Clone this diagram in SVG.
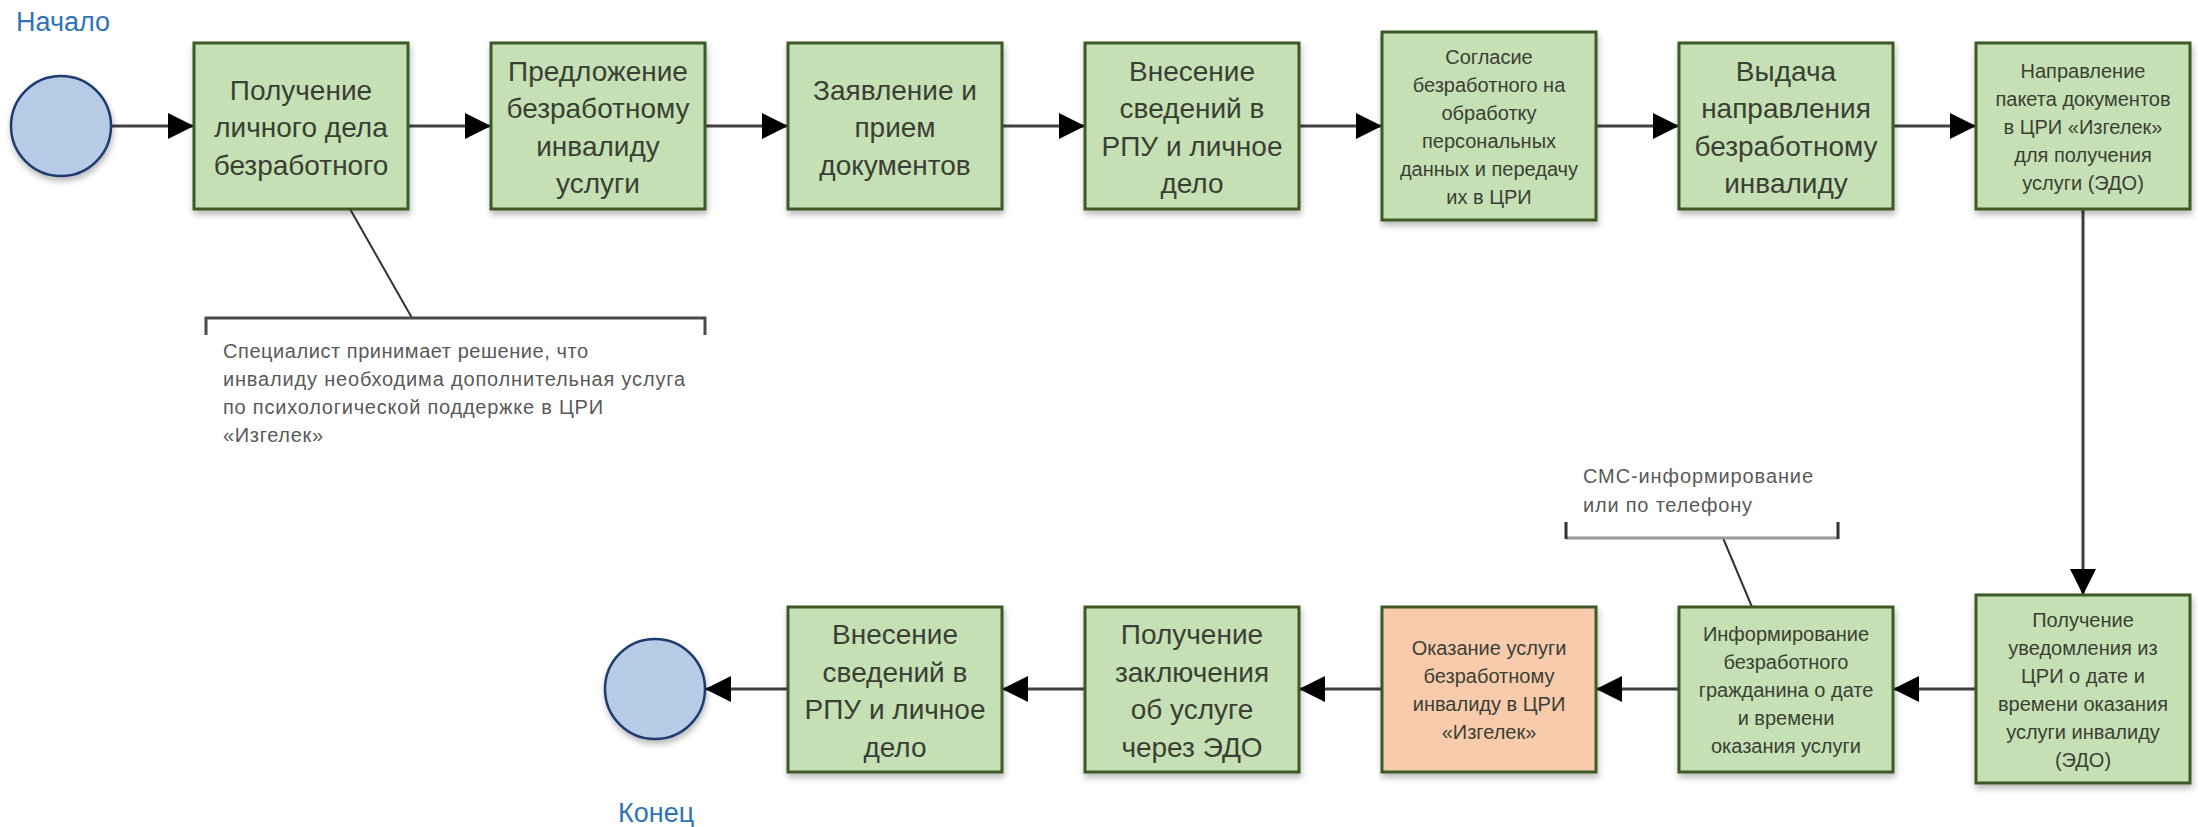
<svg xmlns="http://www.w3.org/2000/svg" width="2198" height="827" viewBox="0 0 2198 827">
  <defs>
    <filter id="shadow" x="-10%" y="-10%" width="125%" height="130%">
      <feDropShadow dx="1" dy="4" stdDeviation="3" flood-color="#000" flood-opacity="0.28"/>
    </filter>
    <marker id="arrow" viewBox="0 0 26 26" refX="26" refY="13" markerWidth="26" markerHeight="26" markerUnits="userSpaceOnUse" orient="auto">
      <path d="M0,0 L26,13 L0,26 Z" fill="#000"/>
    </marker>
  </defs>
  <style>
    .task { fill: #c5e0b4; stroke: #3d5a27; stroke-width: 3; filter: url(#shadow); }
    .task.alt { fill: #f8cbad; }
    .event { fill: #b7cbe6; stroke: #1f3a6e; stroke-width: 2.5; filter: url(#shadow); }
    .big { font-family: "Liberation Sans", Arial, sans-serif; font-size: 28px; fill: #3b3f33; text-anchor: middle; }
    .small { font-family: "Liberation Sans", Arial, sans-serif; font-size: 20px; fill: #3b3f33; text-anchor: middle; }
    .label { font-family: "Liberation Sans", Arial, sans-serif; font-size: 27px; fill: #2e74b5; }
    .note { font-family: "Liberation Sans", Arial, sans-serif; font-size: 20px; fill: #595959; }
    .flow { fill: none; stroke: #404040; stroke-width: 3; marker-end: url(#arrow); }
    .assoc { fill: none; stroke: #333; stroke-width: 2; }
    .tick { fill: none; stroke: #333; stroke-width: 3; }
  </style>
  <rect width="2198" height="827" fill="#fff"/>

  <!-- sequence flows -->
  <g id="connectors">
    <path class="flow" d="M111,126 H194"/>
    <path class="flow" d="M408,126 H491"/>
    <path class="flow" d="M705,126 H788"/>
    <path class="flow" d="M1002,126 H1085"/>
    <path class="flow" d="M1299,126 H1382"/>
    <path class="flow" d="M1596,126 H1679"/>
    <path class="flow" d="M1893,126 H1976"/>
    <path class="flow" d="M2083,209 V595"/>
    <path class="flow" d="M1976,689 H1893"/>
    <path class="flow" d="M1679,689 H1596"/>
    <path class="flow" d="M1382,689 H1299"/>
    <path class="flow" d="M1085,689 H1002"/>
    <path class="flow" d="M788,689 H705"/>
    <!-- annotation links -->
    <path class="assoc" d="M350,209 L412,318"/>
    <path class="assoc" d="M1723,538 L1752,607"/>
  </g>

  <!-- start event -->
  <g id="start">
    <text class="label" x="16" y="31">Начало</text>
    <circle class="event" cx="61" cy="126" r="50"/>
  </g>

  <g id="task1">
    <rect class="task" x="194" y="43" width="214" height="166"/>
    <text class="big"><tspan x="301" y="99.5">Получение</tspan><tspan x="301" y="137">личного дела</tspan><tspan x="301" y="174.5">безработного</tspan></text>
  </g>

  <g id="task2">
    <rect class="task" x="491" y="43" width="214" height="166"/>
    <text class="big"><tspan x="598" y="80.75">Предложение</tspan><tspan x="598" y="118.25">безработному</tspan><tspan x="598" y="155.75">инвалиду</tspan><tspan x="598" y="193.25">услуги</tspan></text>
  </g>

  <g id="task3">
    <rect class="task" x="788" y="43" width="214" height="166"/>
    <text class="big"><tspan x="895" y="99.5">Заявление и</tspan><tspan x="895" y="137">прием</tspan><tspan x="895" y="174.5">документов</tspan></text>
  </g>

  <g id="task4">
    <rect class="task" x="1085" y="43" width="214" height="166"/>
    <text class="big"><tspan x="1192" y="80.75">Внесение</tspan><tspan x="1192" y="118.25">сведений в</tspan><tspan x="1192" y="155.75">РПУ и личное</tspan><tspan x="1192" y="193.25">дело</tspan></text>
  </g>

  <g id="task5">
    <rect class="task" x="1382" y="32" width="214" height="188"/>
    <text class="small"><tspan x="1489" y="63.5">Согласие</tspan><tspan x="1489" y="91.5">безработного на</tspan><tspan x="1489" y="119.5">обработку</tspan><tspan x="1489" y="147.5">персональных</tspan><tspan x="1489" y="175.5">данных и передачу</tspan><tspan x="1489" y="203.5">их в ЦРИ</tspan></text>
  </g>

  <g id="task6">
    <rect class="task" x="1679" y="43" width="214" height="166"/>
    <text class="big"><tspan x="1786" y="80.75">Выдача</tspan><tspan x="1786" y="118.25">направления</tspan><tspan x="1786" y="155.75">безработному</tspan><tspan x="1786" y="193.25">инвалиду</tspan></text>
  </g>

  <g id="task7">
    <rect class="task" x="1976" y="43" width="214" height="166"/>
    <text class="small"><tspan x="2083" y="77.5">Направление</tspan><tspan x="2083" y="105.5">пакета документов</tspan><tspan x="2083" y="133.5">в ЦРИ «Изгелек»</tspan><tspan x="2083" y="161.5">для получения</tspan><tspan x="2083" y="189.5">услуги (ЭДО)</tspan></text>
  </g>

  <g id="task8">
    <rect class="task" x="1976" y="595" width="214" height="188"/>
    <text class="small"><tspan x="2083" y="626.5">Получение</tspan><tspan x="2083" y="654.5">уведомления из</tspan><tspan x="2083" y="682.5">ЦРИ о дате и</tspan><tspan x="2083" y="710.5">времени оказания</tspan><tspan x="2083" y="738.5">услуги инвалиду</tspan><tspan x="2083" y="766.5">(ЭДО)</tspan></text>
  </g>

  <g id="task9">
    <rect class="task" x="1679" y="607" width="214" height="165"/>
    <text class="small"><tspan x="1786" y="640.5">Информирование</tspan><tspan x="1786" y="668.5">безработного</tspan><tspan x="1786" y="696.5">гражданина о дате</tspan><tspan x="1786" y="724.5">и времени</tspan><tspan x="1786" y="752.5">оказания услуги</tspan></text>
  </g>

  <g id="task10">
    <rect class="task alt" x="1382" y="607" width="214" height="165"/>
    <text class="small"><tspan x="1489" y="654.5">Оказание услуги</tspan><tspan x="1489" y="682.5">безработному</tspan><tspan x="1489" y="710.5">инвалиду в ЦРИ</tspan><tspan x="1489" y="738.5">«Изгелек»</tspan></text>
  </g>

  <g id="task11">
    <rect class="task" x="1085" y="607" width="214" height="165"/>
    <text class="big"><tspan x="1192" y="644.25">Получение</tspan><tspan x="1192" y="681.75">заключения</tspan><tspan x="1192" y="719.25">об услуге</tspan><tspan x="1192" y="756.75">через ЭДО</tspan></text>
  </g>

  <g id="task12">
    <rect class="task" x="788" y="607" width="214" height="165"/>
    <text class="big"><tspan x="895" y="644.25">Внесение</tspan><tspan x="895" y="681.75">сведений в</tspan><tspan x="895" y="719.25">РПУ и личное</tspan><tspan x="895" y="756.75">дело</tspan></text>
  </g>

  <!-- end event -->
  <g id="end">
    <circle class="event" cx="655" cy="689" r="50"/>
    <text class="label" x="618" y="822">Конец</text>
  </g>

  <!-- text annotations -->
  <g id="note1">
    <path d="M206,335 V318 H705 V335" fill="none" stroke="#4a4a4a" stroke-width="3"/>
    <text class="note"><tspan x="223" y="358" textLength="365" lengthAdjust="spacing">Специалист принимает решение, что</tspan><tspan x="223" y="386" textLength="462" lengthAdjust="spacing">инвалиду необходима дополнительная услуга</tspan><tspan x="223" y="414" textLength="380" lengthAdjust="spacing">по психологической поддержке в ЦРИ</tspan><tspan x="223" y="442" textLength="100" lengthAdjust="spacing">«Изгелек»</tspan></text>
  </g>

  <g id="note2">
    <path d="M1566,538 H1838" fill="none" stroke="#9a9a9a" stroke-width="3"/>
    <path class="tick" d="M1566,522 V539 M1838,522 V539"/>
    <text class="note"><tspan x="1583" y="483" textLength="230" lengthAdjust="spacing">СМС-информирование</tspan><tspan x="1583" y="512" textLength="169" lengthAdjust="spacing">или по телефону</tspan></text>
  </g>
</svg>
